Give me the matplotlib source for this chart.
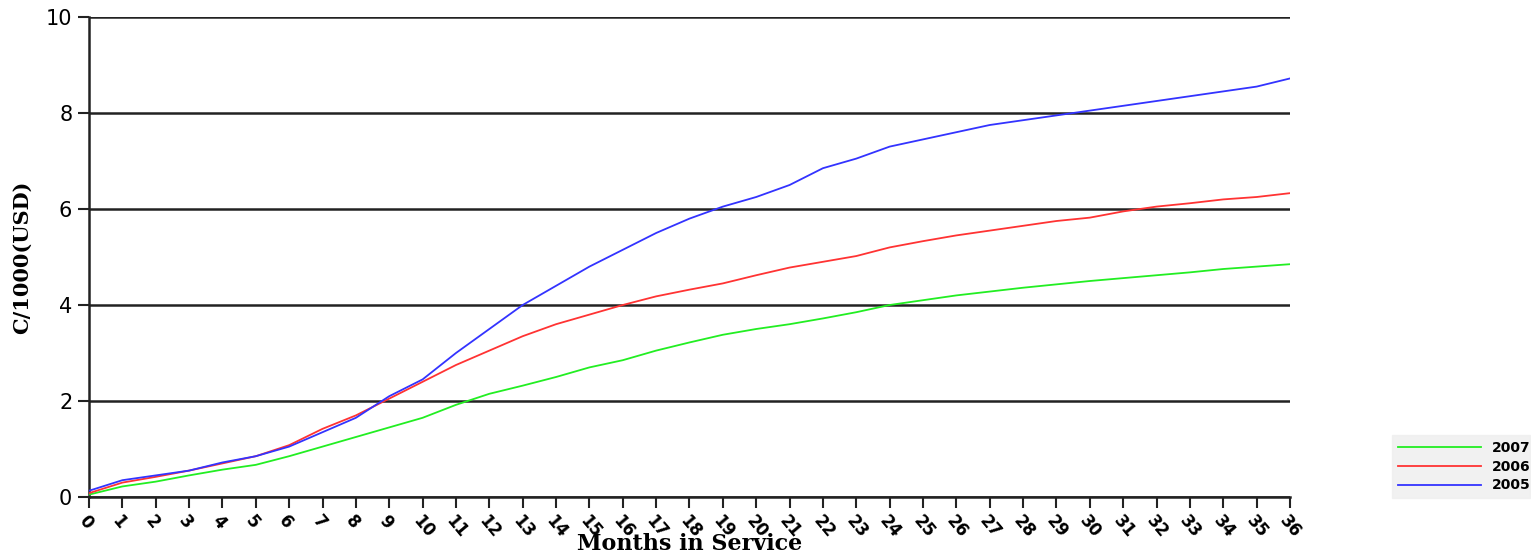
import matplotlib
matplotlib.use("Agg")
import matplotlib.pyplot as plt

months = list(range(37))
y2005 = [0.13, 0.35, 0.45, 0.55, 0.72, 0.85, 1.05, 1.35, 1.65, 2.1, 2.45, 3.0, 3.5, 4.0,
         4.4, 4.8, 5.15, 5.5, 5.8, 6.05, 6.25, 6.5, 6.85, 7.05, 7.3, 7.45, 7.6, 7.75,
         7.85, 7.95, 8.05, 8.15, 8.25, 8.35, 8.45, 8.55, 8.72]
y2006 = [0.08, 0.3, 0.42, 0.55, 0.7, 0.85, 1.08, 1.42, 1.7, 2.05, 2.4, 2.75, 3.05, 3.35,
         3.6, 3.8, 4.0, 4.18, 4.32, 4.45, 4.62, 4.78, 4.9, 5.02, 5.2, 5.33, 5.45, 5.55,
         5.65, 5.75, 5.82, 5.95, 6.05, 6.12, 6.2, 6.25, 6.33]
y2007 = [0.05, 0.22, 0.32, 0.45, 0.57, 0.67, 0.85, 1.05, 1.25, 1.45, 1.65, 1.92, 2.15, 2.32,
         2.5, 2.7, 2.85, 3.05, 3.22, 3.38, 3.5, 3.6, 3.72, 3.85, 4.0, 4.1, 4.2, 4.28,
         4.36, 4.43, 4.5, 4.56, 4.62, 4.68, 4.75, 4.8, 4.85]
yticks = [0, 2, 4, 6, 8, 10]

W, H = 1531, 559
fig = plt.figure(figsize=(W / 100, H / 100), dpi=100)
ax = fig.add_axes([89 / W, 1 - 497 / H, (1290 - 89) / W, (497 - 17) / H])

for v in yticks:
    ax.axhline(v, color="#222222", lw=1.8, zorder=1)

ax.plot(months, y2007, color="#22ee22", lw=1.3, label="2007", zorder=3)
ax.plot(months, y2006, color="#ff3333", lw=1.3, label="2006", zorder=3)
ax.plot(months, y2005, color="#3333ff", lw=1.3, label="2005", zorder=3)

ax.set_xlim(0, 36)
ax.set_ylim(0, 10)
ax.set_xticks(months)
ax.set_xticklabels([str(m) for m in months], rotation=-50, ha="left",
                   rotation_mode="anchor", fontsize=12, fontweight="bold")
ax.set_yticks(yticks)
ax.set_yticklabels([str(v) for v in yticks], fontsize=15)
for s in ["top", "right"]:
    ax.spines[s].set_visible(False)
for s in ["left", "bottom"]:
    ax.spines[s].set_linewidth(1.8)
    ax.spines[s].set_color("#222222")
ax.tick_params(axis="x", length=8, width=1.5, color="#222222", pad=3)
ax.tick_params(axis="y", length=8, width=1.5, color="#222222", pad=4)

ax.set_ylabel("C/1000(USD)", fontsize=15, fontweight="bold", family="DejaVu Serif",
              labelpad=10)
ax.set_xlabel("Months in Service", fontsize=16, fontweight="bold", family="DejaVu Serif",
              labelpad=-6)

leg = ax.legend(loc="lower left", bbox_to_anchor=(1392 / W, 1 - 498 / H, 138 / W, 68 / H),
                bbox_transform=fig.transFigure, mode="expand", fontsize=10,
                frameon=True, fancybox=False, handlelength=6, labelspacing=0.35,
                borderaxespad=0, markerfirst=True)
leg.get_frame().set_facecolor("#eeeeee")
leg.get_frame().set_edgecolor("#eeeeee")
for t in leg.get_texts():
    t.set_fontweight("bold")

fig.savefig("out.png", dpi=100)
